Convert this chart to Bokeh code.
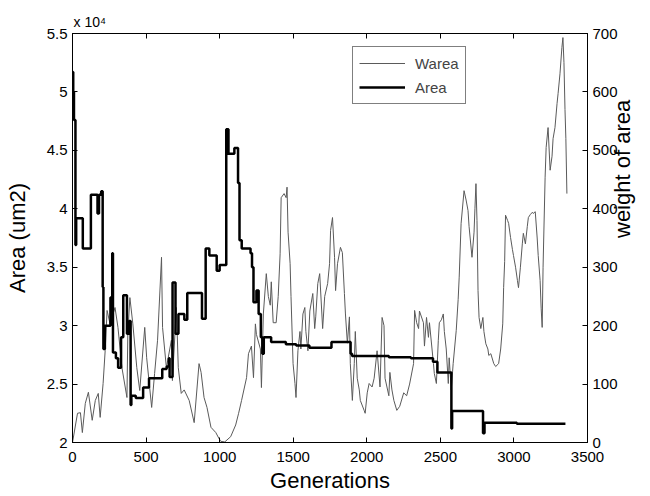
import math
from bokeh.plotting import figure
from bokeh.models import Range1d, LinearAxis, Legend, LegendItem, Title, FixedTicker
from bokeh.embed import file_html
from bokeh.resources import INLINE

# ---- data ----
area_gen = [0, 5, 10, 20, 25, 70, 125, 170, 180, 195, 205, 210, 220, 250, 258, 270, 275, 295,
            310, 330, 345, 370, 385, 395, 400, 430, 480, 520, 570, 610, 640, 655, 660, 680,
            700, 720, 760, 780, 860, 880, 905, 930, 980, 1000, 1045, 1060, 1100, 1125, 1135,
            1150, 1210, 1220, 1230, 1250, 1265, 1280, 1290, 1300, 1350, 1450, 1520, 1610,
            1760, 1890, 1900, 2150, 2300, 2450, 2480, 2575, 2580, 2790, 2800, 3020, 3350]
area_um2 = [51700, 50000, 47600, 36900, 39200, 36600, 41200, 39600, 41200, 41500, 33300, 28000,
            30000, 30000, 32400, 36200, 27700, 27200, 26400, 29000, 32600, 29300, 30400, 23200,
            24000, 23800, 24700, 25500, 25500, 26300, 26500, 27200, 25600, 33700, 29300, 31000,
            30500, 32800, 32800, 30600, 36600, 36000, 34700, 35200, 46800, 44700, 45200, 42200,
            37300, 36600, 36200, 35000, 32000, 33000, 31000, 29000, 27600, 29000, 28600, 28400,
            28300, 28100, 28600, 27600, 27400, 27300, 27200, 26900, 26000, 21200, 22700, 20800,
            21700, 21600, 21600]

warea_gen = [0, 34, 54, 67, 87, 108, 134, 155, 175, 188, 208, 222, 235, 255, 289, 309, 336, 370,
             376, 390, 410, 437, 457, 491, 504, 538, 558, 578, 605, 612, 638, 672, 679, 706, 719,
             739, 759, 793, 827, 860, 874, 894, 914, 941, 974, 995, 1008, 1035, 1075, 1109, 1129,
             1149, 1183, 1196, 1216, 1230, 1243, 1250, 1277, 1284, 1297, 1317, 1331, 1344, 1351,
             1364, 1384, 1398, 1411, 1418, 1438, 1452, 1458, 1465, 1479, 1485, 1499, 1512, 1519,
             1532, 1546, 1552, 1566, 1579, 1586, 1600, 1613, 1633, 1646, 1653, 1667, 1680, 1700,
             1714, 1734, 1747, 1754, 1767, 1781, 1788, 1801, 1821, 1834, 1848, 1855, 1868, 1882,
             1888, 1902, 1915, 1922, 1935, 1949, 1956, 1982, 1989, 2003, 2016, 2036, 2050, 2070,
             2090, 2104, 2117, 2124, 2150, 2157, 2171, 2184, 2204, 2224, 2251, 2271, 2291, 2318,
             2325, 2339, 2352, 2358, 2385, 2392, 2406, 2419, 2426, 2453, 2459, 2473, 2486, 2493,
             2507, 2520, 2527, 2540, 2554, 2560, 2574, 2587, 2608, 2621, 2628, 2641, 2661, 2675,
             2688, 2695, 2715, 2729, 2735, 2742, 2749, 2756, 2763, 2775, 2789, 2796, 2809, 2823,
             2829, 2843, 2863, 2876, 2896, 2910, 2924, 2930, 2937, 2943, 2957, 2964, 2977, 2990,
             2997, 3011, 3024, 3031, 3044, 3057, 3064, 3078, 3091, 3098, 3111, 3125, 3131, 3145,
             3158, 3165, 3178, 3185, 3192, 3198, 3212, 3219, 3232, 3246, 3259, 3266, 3279, 3293,
             3300, 3313, 3326, 3333, 3340, 3347, 3353, 3360]
warea = [0, 50, 51, 17, 67, 86, 38, 72, 84, 43, 101, 157, 226, 203, 231, 197, 128, 77, 187, 248,
         203, 128, 89, 197, 145, 60, 118, 175, 317, 197, 128, 175, 106, 231, 128, 84, 90, 72, 34,
         135, 120, 77, 60, 26, 17, 7, 2, 1, 10, 30, 50, 72, 111, 152, 165, 111, 203, 185, 160, 94,
         220, 289, 250, 235, 275, 205, 205, 250, 323, 419, 426, 419, 437, 360, 306, 250, 135, 101,
         77, 157, 190, 160, 220, 231, 190, 157, 225, 255, 195, 215, 272, 289, 195, 250, 272, 306,
         363, 385, 317, 260, 306, 334, 325, 255, 220, 170, 215, 135, 72, 135, 190, 110, 90, 72, 55,
         50, 85, 101, 95, 110, 157, 95, 214, 200, 110, 80, 120, 90, 72, 55, 62, 85, 80, 100, 135,
         226, 205, 195, 225, 205, 165, 214, 180, 205, 135, 118, 101, 175, 205, 210, 220, 190, 160,
         101, 145, 90, 135, 192, 245, 283, 375, 431, 415, 397, 370, 317, 360, 400, 443, 380, 260,
         214, 195, 214, 190, 169, 160, 149, 152, 135, 130, 135, 160, 203, 265, 310, 389, 380, 375,
         351, 330, 320, 300, 277, 265, 300, 340, 358, 340, 370, 385, 390, 394, 392, 395, 350, 320,
         277, 230, 197, 300, 454, 505, 539, 466, 490, 520, 539, 580, 597, 631, 676, 693, 650, 570,
         520, 426]

x_ticks = [0, 500, 1000, 1500, 2000, 2500, 3000, 3500]
area_ticks = [20000, 25000, 30000, 35000, 40000, 45000, 50000, 55000]
area_tick_labels = ["2", "2.5", "3", "3.5", "4", "4.5", "5", "5.5"]
w_ticks = [0, 100, 200, 300, 400, 500, 600, 700]

FONT = "Liberation Sans"

p = figure(width=650, height=496, output_backend="svg", toolbar_location=None,
           x_range=Range1d(0, 3500), y_range=Range1d(20000, 55000),
           min_border_left=72, min_border_right=58, min_border_top=33, min_border_bottom=54)
p.extra_y_ranges = {"w": Range1d(0, 700)}
p.xgrid.visible = False
p.ygrid.visible = False
p.outline_line_color = "black"
p.outline_line_width = 1
p.background_fill_color = "white"
p.border_fill_color = "white"

def style_axis(ax, size="15px"):
    ax.axis_line_color = "black"
    ax.major_tick_line_color = "black"
    ax.major_tick_in = 5
    ax.major_tick_out = 0
    ax.minor_tick_line_color = None
    ax.major_label_text_font = FONT
    ax.major_label_text_font_size = size
    ax.major_label_text_color = "black"
    ax.axis_label_text_font = FONT
    ax.axis_label_text_font_size = "22px"
    ax.axis_label_text_font_style = "normal"
    ax.axis_label_text_color = "black"

xa = p.xaxis[0]
xa.ticker = FixedTicker(ticks=x_ticks)
xa.axis_label = "Generations"
style_axis(xa)
xa.major_label_standoff = 9
xa.axis_label_standoff = 3

ya = p.yaxis[0]
ya.ticker = FixedTicker(ticks=area_ticks)
ya.major_label_overrides = {t: l for t, l in zip(area_ticks, area_tick_labels)}
ya.axis_label = "Area (um2)"
style_axis(ya)
ya.major_label_standoff = 5
ya.axis_label_standoff = 14

ra_axis = LinearAxis(y_range_name="w", ticker=FixedTicker(ticks=w_ticks), axis_label="weight of area")
style_axis(ra_axis)
ra_axis.major_label_standoff = 5
ra_axis.axis_label_standoff = 2
ra_axis.axis_label_orientation = math.pi / 2
p.add_layout(ra_axis, "right")

top_axis = LinearAxis(ticker=FixedTicker(ticks=x_ticks))
style_axis(top_axis, size="1px")
top_axis.major_label_text_alpha = 0
top_axis.major_label_standoff = 0

exp_title = Title(text="x 10\u2074", align="left", offset=1, standoff=7,
                  text_font=FONT, text_font_size="14px", text_font_style="normal",
                  text_color="black")
p.above = [top_axis, exp_title]

rw = p.line(warea_gen, warea, y_range_name="w", line_color="#5a5a5a", line_width=1)
ra = p.step(area_gen, area_um2, mode="after", line_color="black", line_width=2.5)

legend = Legend(items=[LegendItem(label="Warea", renderers=[rw]),
                       LegendItem(label="Area", renderers=[ra])],
                location=(280, 338))
legend.border_line_color = "black"
legend.border_line_width = 1
legend.background_fill_color = "white"
legend.background_fill_alpha = 1
legend.label_text_font = FONT
legend.label_text_font_size = "15px"
legend.glyph_width = 46
legend.glyph_height = 20
legend.label_height = 20
legend.label_standoff = 10
legend.padding = 6
legend.spacing = 4
legend.margin = 0
p.add_layout(legend)

open("out.html", "w").write(file_html(p, INLINE))
